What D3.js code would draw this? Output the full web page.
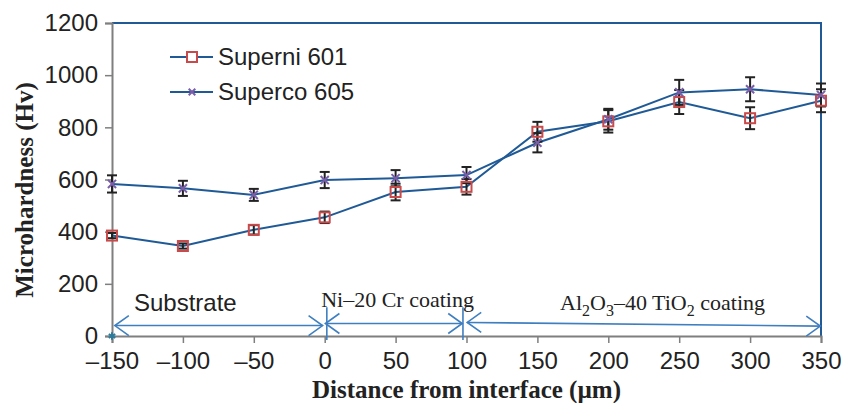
<!DOCTYPE html>
<html>
<head>
<meta charset="utf-8">
<script src="https://cdn.jsdelivr.net/npm/d3@7.9.0/dist/d3.min.js"></script>
<style>
  body { margin: 0; background: #fff; }
  svg { display: block; }
</style>
</head>
<body>
<div id="chart"></div>
<script>
// distances from interface (µm)
const distances = [-150, -100, -50, 0, 50, 100, 150, 200, 250, 300, 350];
// Superni 601 microhardness + error
const superni = [385, 345, 407, 455, 552, 572, 783, 823, 897, 835, 902];
const superniErr = [10, 10, 18, 22, 32, 30, 38, 43, 46, 42, 44];
// Superco 605 microhardness + error
const superco = [583, 566, 541, 598, 605, 617, 741, 831, 934, 946, 924];
const supercoErr = [33, 29, 23, 31, 31, 31, 37, 40, 48, 46, 44];

const yTicks = [0, 200, 400, 600, 800, 1000, 1200];
const xTicks = [-150, -100, -50, 0, 50, 100, 150, 200, 250, 300, 350];

// coating zones (x range in µm, arrow height in Hv)
const zones = [
  { x0: -148, x1: -1.5, y0: 40, y1: 40 },
  { x0: 0.5, x1: 97, y0: 48, y1: 48 },
  { x0: 100.5, x1: 349.5, y0: 52, y1: 38 },
];
const zoneBounds = [1.5, 97.5];

const width = 842, height = 403;
const margin = { top: 23, right: 21, bottom: 67, left: 112 };

const svg = d3.select('#chart').append('svg')
  .attr('width', width).attr('height', height);

const x = d3.scaleLinear().domain([-150, 350]).range([margin.left, width - margin.right]);
const y = d3.scaleLinear().domain([0, 1200]).range([height - margin.bottom, margin.top]);

const lineBlue = '#1f5a96';
const axisGray = '#7f7f7f';
const arrowBlue = '#3f7fc0';
const sans = 'Liberation Sans, Arial, sans-serif';
const serif = 'Liberation Serif, Times New Roman, serif';

// top and right frame
svg.append('path')
  .attr('d', `M${x(-150)},${y(1200)}H${x(350)}V${y(0)}`)
  .attr('fill', 'none').attr('stroke', lineBlue).attr('stroke-width', 2);

// y axis
const yAxis = svg.append('g')
  .attr('transform', `translate(${x(-150)},0)`)
  .call(d3.axisLeft(y).tickValues(yTicks).tickSize(7).tickPadding(7).tickFormat(d3.format('d')));
yAxis.select('.domain').attr('stroke', axisGray).attr('stroke-width', 2);
yAxis.selectAll('.tick line').attr('stroke', axisGray).attr('stroke-width', 1.5);
yAxis.selectAll('.tick text')
  .attr('font-family', sans).attr('font-size', 24).attr('fill', '#222');

// x axis
const xAxis = svg.append('g')
  .attr('transform', `translate(0,${y(0)})`)
  .call(d3.axisBottom(x).tickValues(xTicks).tickSize(7).tickPadding(9)
    .tickFormat(d => d < 0 ? '\u2013' + Math.abs(d) : d));
xAxis.select('.domain').attr('stroke', axisGray).attr('stroke-width', 2);
xAxis.selectAll('.tick line').attr('stroke', axisGray).attr('stroke-width', 1.5);
xAxis.selectAll('.tick text')
  .attr('font-family', sans).attr('font-size', 24).attr('fill', '#222');

// axis titles
svg.append('text')
  .attr('x', (x(-150) + x(350)) / 2).attr('y', 398)
  .attr('text-anchor', 'middle')
  .attr('font-family', serif)
  .attr('font-weight', 'bold').attr('font-size', 25).attr('fill', '#222')
  .text('Distance from interface (\u00b5m)');

svg.append('text')
  .attr('transform', 'translate(33,190) rotate(-90)')
  .attr('text-anchor', 'middle')
  .attr('font-family', serif)
  .attr('font-weight', 'bold').attr('font-size', 25).attr('fill', '#222')
  .text('Microhardness (Hv)');

// zone arrows
const arrows = svg.append('g').attr('stroke', arrowBlue).attr('stroke-width', 1.6).attr('fill', 'none');
zones.forEach(z => {
  const ax0 = x(z.x0), ax1 = x(z.x1), ay0 = y(z.y0), ay1 = y(z.y1);
  arrows.append('line').attr('x1', ax0).attr('y1', ay0).attr('x2', ax1).attr('y2', ay1);
  arrows.append('path').attr('d', `M${ax0 + 14},${ay0 - 10}L${ax0},${ay0}L${ax0 + 14},${ay0 + 10}`);
  arrows.append('path').attr('d', `M${ax1 - 14},${ay1 - 10}L${ax1},${ay1}L${ax1 - 14},${ay1 + 10}`);
});
zoneBounds.forEach(b => {
  arrows.append('line')
    .attr('x1', x(b)).attr('x2', x(b))
    .attr('y1', y(110)).attr('y2', y(-15));
});

// zone labels
svg.append('text')
  .attr('x', x(-134.5)).attr('y', y(96))
  .attr('font-family', sans).attr('font-size', 24).attr('fill', '#222')
  .text('Substrate');

svg.append('text')
  .attr('x', x(-2.5)).attr('y', y(112))
  .attr('font-family', serif).attr('font-size', 22).attr('fill', '#222')
  .text('Ni\u201320 Cr coating');

const al = svg.append('text')
  .attr('x', x(166)).attr('y', y(100))
  .attr('font-family', serif).attr('font-size', 22).attr('fill', '#222');
al.append('tspan').text('Al');
al.append('tspan').attr('dy', 6).attr('font-size', 16).text('2');
al.append('tspan').attr('dy', -6).text('O');
al.append('tspan').attr('dy', 6).attr('font-size', 16).text('3');
al.append('tspan').attr('dy', -6).text('\u201340 TiO');
al.append('tspan').attr('dy', 6).attr('font-size', 16).text('2');
al.append('tspan').attr('dy', -6).text(' coating');

// series lines
const line = d3.line().x((d, i) => x(distances[i])).y(d => y(d));
svg.append('path').datum(superni).attr('d', line)
  .attr('fill', 'none').attr('stroke', lineBlue).attr('stroke-width', 2);
svg.append('path').datum(superco).attr('d', line)
  .attr('fill', 'none').attr('stroke', lineBlue).attr('stroke-width', 2);

// error bars
function errorBars(values, errs) {
  const g = svg.append('g').attr('stroke', '#222').attr('stroke-width', 2);
  values.forEach((v, i) => {
    const cx = x(distances[i]);
    const top = y(v + errs[i]), bot = y(v - errs[i]);
    g.append('line').attr('x1', cx).attr('x2', cx).attr('y1', top).attr('y2', bot);
    g.append('line').attr('x1', cx - 5).attr('x2', cx + 5).attr('y1', top).attr('y2', top);
    g.append('line').attr('x1', cx - 5).attr('x2', cx + 5).attr('y1', bot).attr('y2', bot);
  });
}
errorBars(superni, superniErr);
errorBars(superco, supercoErr);

// markers
const squareColor = '#c94a4a';
const crossColor = '#7a5ea8';
svg.append('g').selectAll('rect').data(superni).join('rect')
  .attr('x', (d, i) => x(distances[i]) - 5).attr('y', d => y(d) - 5)
  .attr('width', 10).attr('height', 10)
  .attr('fill', 'none').attr('stroke', squareColor).attr('stroke-width', 2);

const cross = d3.symbol().type(d3.symbolX).size(45);
svg.append('g').selectAll('path').data(superco).join('path')
  .attr('transform', (d, i) => `translate(${x(distances[i])},${y(d)})`)
  .attr('d', cross)
  .attr('fill', 'none').attr('stroke', crossColor).attr('stroke-width', 2);

// small marker at origin
svg.append('path')
  .attr('transform', `translate(${x(-150)},${y(0)})`)
  .attr('d', d3.symbol().type(d3.symbolAsterisk).size(40))
  .attr('fill', 'none').attr('stroke', '#2d7b9a').attr('stroke-width', 2);

// legend
const legend = svg.append('g').attr('transform', 'translate(170,57)');
[['Superni 601', 'square'], ['Superco 605', 'cross']].forEach(([label, kind], i) => {
  const row = legend.append('g').attr('transform', `translate(0,${i * 35})`);
  row.append('line').attr('x1', 0).attr('x2', 43).attr('stroke', lineBlue).attr('stroke-width', 2);
  if (kind === 'square') {
    row.append('rect').attr('x', 17).attr('y', -5).attr('width', 10).attr('height', 10)
      .attr('fill', '#fff').attr('stroke', squareColor).attr('stroke-width', 2);
  } else {
    row.append('path').attr('transform', 'translate(22,0)')
      .attr('d', d3.symbol().type(d3.symbolX).size(30))
      .attr('fill', 'none').attr('stroke', crossColor).attr('stroke-width', 2);
  }
  row.append('text').attr('x', 48).attr('y', 8)
    .attr('font-family', sans).attr('font-size', 24).attr('fill', '#222')
    .text(label);
});
</script>
</body>
</html>
